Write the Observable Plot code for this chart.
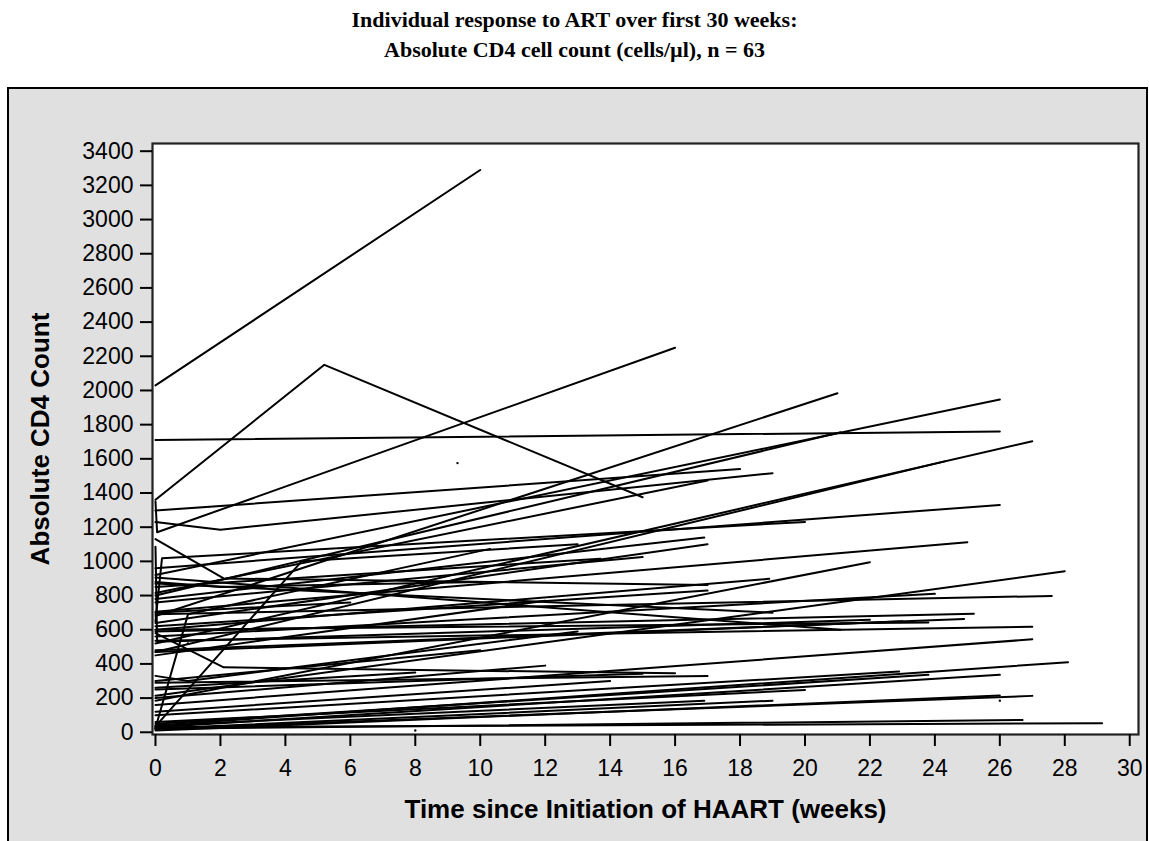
<!DOCTYPE html>
<html>
<head>
<meta charset="utf-8">
<script src="https://cdn.jsdelivr.net/npm/d3@7"></script>
<script src="https://cdn.jsdelivr.net/npm/@observablehq/plot@0.6"></script>
<style>
  html, body { margin: 0; padding: 0; background: white; }
  body { width: 1149px; height: 841px; overflow: hidden; position: relative; }
  #title { position: absolute; top: 5px; left: 0; width: 1149px; text-align: center;
           font-family: "Liberation Serif", "Times New Roman", serif; font-weight: bold;
           font-size: 22px; line-height: 30px; color: #000; }
  #panel { position: absolute; left: 7px; top: 87px; width: 1137px; height: 800px;
           background: #e0e0e0; border: 2px solid #000; }
  #chart { position: absolute; left: 0; top: 88px; }
</style>
</head>
<body>
<div id="title">Individual response to ART over first 30 weeks:<br>Absolute CD4 cell count (cells/µl), n = 63</div>
<div id="panel"></div>
<div id="chart"></div>
<script>
const xTicks = [0,2,4,6,8,10,12,14,16,18,20,22,24,26,28,30];
const yTicks = [0,200,400,600,800,1000,1200,1400,1600,1800,2000,2200,2400,2600,2800,3000,3200,3400];
const xTitle = "Time since Initiation of HAART (weeks)";
const yTitle = "Absolute CD4 Count";

// each patient: list of [week, CD4 count]
const trajectories = [
  [[0,2030],[10,3290]],
  [[0,1360],[5.2,2150],[15,1375]],
  [[0,1350],[0.05,1170],[16,2250]],
  [[0,1710],[26,1760]],
  [[0,1297],[18,1540]],
  [[0,1230],[2,1185],[19,1516]],
  [[0,680],[21,1984]],
  [[0,920],[26,1947]],
  [[0,520],[27,1703]],
  [[0,470],[24.3,1585]],
  [[0,800],[21.1,1755]],
  [[0,815],[17,1473]],
  [[0,650],[0.2,1018],[20,1231]],
  [[0,960],[26,1330]],
  [[0,705],[25,1112]],
  [[0,185],[22,995]],
  [[0,780],[16.9,1139]],
  [[0,640],[17,1100]],
  [[0,760],[15,1025]],
  [[0,850],[13.7,1016]],
  [[0,1130],[2.1,900],[17,862]],
  [[0,600],[18.9,898]],
  [[0,620],[17,829]],
  [[0,214],[28,942]],
  [[0,560],[24,810]],
  [[0,690],[27.6,798]],
  [[0,590],[25.2,693]],
  [[0,1085],[0.05,530],[22,658]],
  [[0,480],[24.9,663]],
  [[0,600],[23.8,642]],
  [[0,470],[23,650]],
  [[0,535],[27,618]],
  [[0,160],[27,544]],
  [[0,100],[22.9,355]],
  [[0,50],[23.8,336]],
  [[0,30],[26,336]],
  [[0,40],[28.1,410]],
  [[0,20],[27,213]],
  [[0,10],[26,215]],
  [[0,20],[26.7,72]],
  [[0,30],[29.15,53]],
  [[0,580],[2.1,380],[16,345]],
  [[0,290],[17,330]],
  [[0,60],[20,248]],
  [[0,20],[19,185]],
  [[0,40],[16.9,185]],
  [[0,35],[4.5,1000],[13,1100]],
  [[0,25],[1,690],[10.3,1073]],
  [[0,905],[21.1,600]],
  [[0,870],[19,700]],
  [[0,250],[15,343]],
  [[0,450],[12,770]],
  [[0,300],[10,480]],
  [[0,260],[8,350]],
  [[0,120],[14,300]],
  [[0,700],[6,760]],
  [[0,880],[2,850],[10,880]],
  [[0,330],[1,300],[13,590]],
  [[0,200],[12,390]]
];
// patients with a single measurement
const singles = [[9.3,1575],[8,10],[26,185],[1,520]];

const rows = trajectories.flatMap((t, i) => t.map(([w, c]) => ({id: i, week: w, cd4: c})));
const pts = singles.map(([w, c]) => ({week: w, cd4: c}));

const W = 1149, H = 753;
const chart = Plot.plot({
  width: W,
  height: H,
  marginLeft: 152,
  marginRight: 11,
  marginTop: 55,
  marginBottom: 107,
  style: {background: "transparent", fontFamily: "'Liberation Sans', Arial, sans-serif", fontSize: "23px", color: "#000"},
  x: {domain: [-0.092, 30.27]},
  y: {domain: [-13, 3445]},
  marks: [
    Plot.frame({fill: "white", stroke: null}),
    Plot.line(rows, {x: "week", y: "cd4", z: "id", stroke: "#000", strokeWidth: 2, curve: "linear"}),
    Plot.dot(pts, {x: "week", y: "cd4", r: 1.2, fill: "#000", stroke: null}),
    Plot.frame({stroke: "#222", strokeWidth: 2.2}),
    Plot.axisX({ticks: xTicks, tickSize: 12, tickPadding: 13, tickFormat: d => String(d), label: null, fontSize: 23, strokeWidth: 2, stroke: "#000"}),
    Plot.axisY({ticks: yTicks, tickSize: 12, tickPadding: 7, tickFormat: d => String(d), label: null, fontSize: 23, strokeWidth: 2, stroke: "#000"}),
    Plot.text([xTitle], {frameAnchor: "bottom", dy: 75, text: d => d, fontWeight: "bold", fontSize: 26, textAnchor: "middle", lineAnchor: "middle", fill: "#000"}),
    Plot.text([yTitle], {frameAnchor: "left", dx: -112, rotate: -90, text: d => d, fontWeight: "bold", fontSize: 26, textAnchor: "middle", lineAnchor: "middle", fill: "#000"})
  ]
});
document.getElementById("chart").appendChild(chart);
</script>
</body>
</html>
